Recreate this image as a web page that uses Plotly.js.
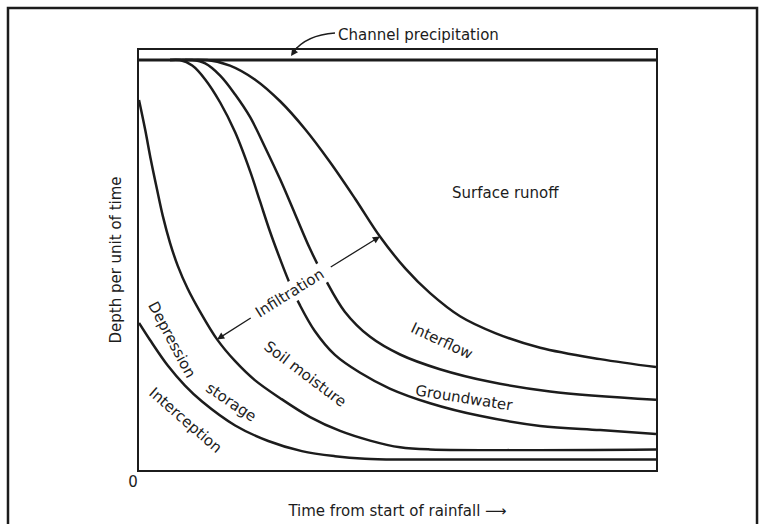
<!DOCTYPE html>
<html>
<head>
<meta charset="utf-8">
<script src="https://cdn.plot.ly/plotly-3.0.1.min.js"></script>
<style>html,body{margin:0;padding:0;background:#ffffff;}</style>
</head>
<body>
<div id="chart" style="width:764px;height:524px;"></div>
<script>
// ---- data (time from start of rainfall, 0-100; depth per unit of time, 0-100) ----
const rainfallX = [0, 100];
const rainfallY = [97.6, 97.6];

const interceptionX = [0, 2.1, 5.6, 8.9, 12.2, 18.6, 25.0, 31.5, 37.9, 43.7, 50.5, 100];
const interceptionY = [35.0, 31.0, 24.8, 20.1, 16.3, 10.6, 6.9, 4.5, 3.3, 2.7, 2.5, 2.5];

const depressionX = [0, 1.2, 2.3, 3.5, 4.6, 6.0, 7.5, 9.4, 11.8, 15.1, 18.6, 22.4, 27.3, 33.1, 38.9, 44.7, 50.5, 56.3, 100];
const depressionY = [88.1, 81.0, 73.8, 66.7, 60.5, 54.1, 48.6, 43.2, 37.7, 31.1, 25.9, 21.4, 17.1, 12.6, 9.3, 7.0, 5.4, 4.9, 4.9];

const soilX = [6.0, 7.9, 10.3, 12.8, 15.7, 18.6, 21.5, 23.4, 25.3, 27.3, 29.2, 31.1, 34.0, 37.9, 42.7, 48.5, 56.3, 65.9, 77.6, 89.2, 100];
const soilY = [97.6, 97.6, 96.3, 93.0, 87.5, 80.4, 71.1, 64.0, 56.9, 50.2, 44.3, 39.3, 33.1, 27.4, 23.2, 19.4, 15.9, 12.9, 10.5, 9.5, 8.6];

const groundwaterX = [6.0, 10.3, 12.8, 15.7, 18.6, 21.5, 24.4, 27.3, 30.2, 33.1, 36.0, 39.8, 44.7, 50.5, 58.2, 67.9, 79.5, 100];
const groundwaterY = [97.6, 97.6, 96.8, 93.9, 89.4, 84.0, 76.8, 69.2, 60.9, 52.6, 45.5, 37.7, 31.7, 27.5, 24.0, 21.0, 18.7, 16.7];

const interflowX = [8.9, 13.2, 17.6, 22.4, 27.3, 32.1, 36.9, 41.8, 46.6, 51.5, 56.3, 62.1, 68.9, 77.6, 89.2, 100];
const interflowY = [97.6, 97.6, 96.3, 93.0, 87.8, 81.2, 73.4, 64.6, 55.6, 48.0, 42.1, 36.6, 32.6, 29.1, 26.4, 24.5];

const xTickVals = [0];
const xTickText = ['0'];

// ---- styling ----
const INK = '#1c1c1c';
const FONT = 'DejaVu Sans, sans-serif';
const FS = 15;

function curve(name, x, y, w) {
  return {
    name: name, x: x, y: y, type: 'scatter', mode: 'lines',
    line: {color: INK, width: w, shape: 'spline', smoothing: 1.0},
    hoverinfo: 'skip', showlegend: false, cliponaxis: true
  };
}

const traces = [
  curve('Rainfall', rainfallX, rainfallY, 3),
  curve('Interception', interceptionX, interceptionY, 2.5),
  curve('Depression storage', depressionX, depressionY, 2.5),
  curve('Soil moisture', soilX, soilY, 2.5),
  curve('Groundwater', groundwaterX, groundwaterY, 2.5),
  curve('Interflow', interflowX, interflowY, 2.5)
];

function lbl(text, x, y, angle, extra) {
  return Object.assign({
    text: text, x: x, y: y, xref: 'x', yref: 'y', showarrow: false,
    textangle: angle, font: {family: FONT, size: FS, color: INK},
    xanchor: 'center', yanchor: 'middle'
  }, extra || {});
}

const annotations = [
  lbl('Surface runoff', 70.8, 66.0, 0),
  lbl('Interflow', 58.6, 30.8, 25),
  lbl('Groundwater', 62.9, 17.1, 9),
  lbl('Soil moisture', 32.1, 22.8, 37),
  lbl('Depression', 6.4, 31.0, 62),
  lbl('storage', 17.8, 16.3, 34),
  lbl('Interception', 8.9, 11.8, 41),
  lbl('Infiltration', 29.2, 42.1, -32, {bgcolor: '#ffffff', borderpad: 1}),
  // infiltration arrows
  {x: 15.1, y: 31.1, ax: 21.9, ay: 36.4, xref: 'x', yref: 'y', axref: 'x', ayref: 'y',
   text: '', showarrow: true, arrowhead: 2, arrowsize: 1.1, arrowwidth: 1.3, arrowcolor: INK, standoff: 0},
  {x: 46.6, y: 55.6, ax: 36.8, ay: 48.1, xref: 'x', yref: 'y', axref: 'x', ayref: 'y',
   text: '', showarrow: true, arrowhead: 2, arrowsize: 1.1, arrowwidth: 1.3, arrowcolor: INK, standoff: 0},
  // channel precipitation label + arrow head
  {text: 'Channel precipitation', x: 0.5397, y: 1.0357, xref: 'paper', yref: 'paper',
   showarrow: false, xanchor: 'center', yanchor: 'middle', font: {family: FONT, size: FS, color: INK}},
  {x: 0.2940, y: 0.9857, xref: 'paper', yref: 'paper', ax: 7, ay: -10, text: '',
   showarrow: true, arrowhead: 2, arrowsize: 1.1, arrowwidth: 1.3, arrowcolor: INK, standoff: 0}
];

const shapes = [
  // outer frame of the figure
  {type: 'rect', xref: 'paper', yref: 'paper', x0: -0.2534, x1: 1.1954, y0: -0.1667, y1: 1.1,
   line: {color: INK, width: 2.5}, layer: 'above'},
  // curved leader for channel precipitation
  {type: 'path', xref: 'paper', yref: 'paper',
   path: 'M 0.3791 1.0405 Q 0.3230 1.0357 0.2985 0.9950',
   line: {color: INK, width: 1.3}}
];

const layout = {
  width: 764, height: 524,
  margin: {l: 139, r: 108, t: 50, b: 54, pad: 0},
  paper_bgcolor: '#ffffff', plot_bgcolor: '#ffffff',
  font: {family: FONT, size: FS, color: INK},
  showlegend: false,
  xaxis: {
    range: [0, 100], showgrid: false, zeroline: false,
    showline: true, mirror: true, linecolor: INK, linewidth: 2,
    tickvals: xTickVals, ticktext: xTickText, ticks: '',
    ticklabelshift: -6, ticklabelstandoff: -3,
    tickfont: {family: FONT, size: FS, color: INK},
    title: {text: 'Time from start of rainfall \u27F6', font: {family: FONT, size: FS, color: INK}, standoff: 15},
    fixedrange: true
  },
  yaxis: {
    range: [0, 100], showgrid: false, zeroline: false,
    showline: true, mirror: true, linecolor: INK, linewidth: 2,
    showticklabels: false, ticks: '',
    title: {text: 'Depth per unit of time', font: {family: FONT, size: FS, color: INK}, standoff: 12},
    fixedrange: true
  },
  annotations: annotations,
  shapes: shapes
};

Plotly.newPlot('chart', traces, layout, {displayModeBar: false, staticPlot: true});
</script>
</body>
</html>
